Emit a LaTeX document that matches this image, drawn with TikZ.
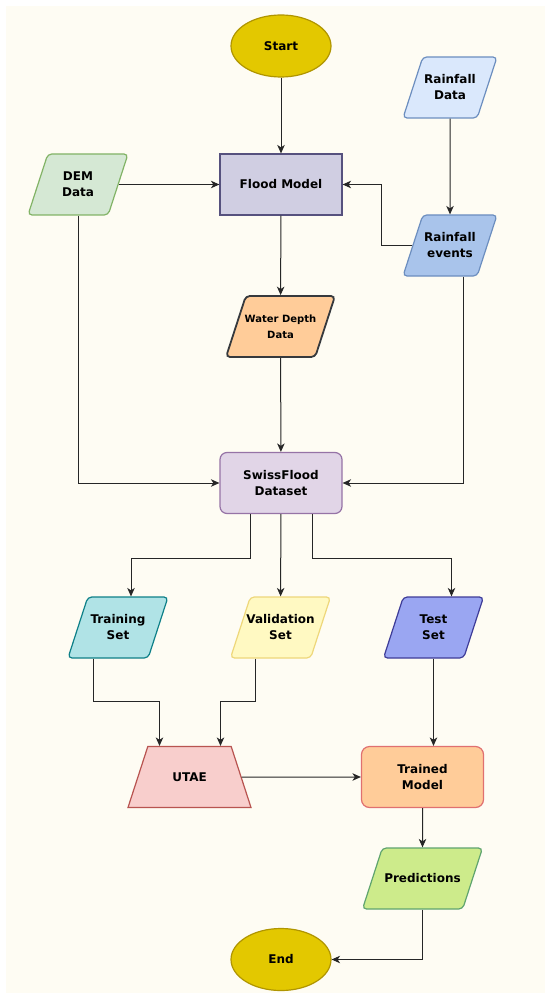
\documentclass[tikz,border=0pt]{standalone}
\usepackage{fontspec}
\setmainfont{DejaVu Sans}
\usetikzlibrary{shapes.geometric,arrows.meta}

\definecolor{cream}{HTML}{FEFCF3}
\definecolor{goldfill}{HTML}{E3C800}
\definecolor{golddraw}{HTML}{B09500}
\definecolor{floodfill}{HTML}{D0CEE2}
\definecolor{flooddraw}{HTML}{56517E}
\definecolor{demfill}{HTML}{D5E8D4}
\definecolor{demdraw}{HTML}{82B366}
\definecolor{rainfill}{HTML}{DAE8FC}
\definecolor{raindraw}{HTML}{6C8EBF}
\definecolor{eventfill}{HTML}{A9C4EB}
\definecolor{depthfill}{HTML}{FFCC99}
\definecolor{depthdraw}{HTML}{36393D}
\definecolor{swissfill}{HTML}{E1D5E7}
\definecolor{swissdraw}{HTML}{9673A6}
\definecolor{trainfill}{HTML}{B0E3E6}
\definecolor{traindraw}{HTML}{0E8088}
\definecolor{validfill}{HTML}{FFF9C2}
\definecolor{validdraw}{HTML}{EED77A}
\definecolor{testfill}{HTML}{9AA6F2}
\definecolor{testdraw}{HTML}{3E3C98}
\definecolor{utaefill}{HTML}{F8CECC}
\definecolor{utaedraw}{HTML}{B85450}
\definecolor{modeldraw}{HTML}{E07070}
\definecolor{predfill}{HTML}{CDEB8B}
\definecolor{preddraw}{HTML}{5FA46E}

\tikzset{
  box/.style={draw, line width=1.2pt, align=center, inner sep=1pt,
    font=\fontsize{12}{16}\selectfont\bfseries},
  % fixed text box so the trapezium keeps its angles at 61pt high
  twoline/.style={text height=25.15pt, text depth=0.35pt, inner ysep=17.75pt},
  oneline/.style={text height=17.15pt, text depth=8.35pt, inner ysep=17.75pt},
  io/.style={box, twoline, trapezium, trapezium left angle=72, trapezium right angle=108,
    trapezium stretches body=true, rounded corners=4pt},
  term/.style={box, ellipse, minimum width=100pt, minimum height=62pt,
    fill=goldfill, draw=golddraw},
  arr/.style={-{Stealth[length=8.5pt,width=7.5pt,inset=2.5pt]}, line width=1pt, black!85}
}

\begin{document}
\begin{tikzpicture}[x=1pt,y=-1pt]
\fill[white] (0,0) rectangle (550,1000);
\fill[cream] (6,6) rectangle (545,993);

% nodes
\node[term] (start) at (281,46) {Start};
\node[box, fill=floodfill, draw=flooddraw, minimum width=122pt, minimum height=61pt] (flood) at (281,184.5) {Flood Model};
\node[io, fill=demfill, draw=demdraw, minimum width=100pt] (dem) at (78,184.5) {DEM\\Data};
\node[io, fill=rainfill, draw=raindraw, minimum width=94pt] (rain) at (450,87.5) {Rainfall\\Data};
\node[io, fill=eventfill, draw=raindraw, minimum width=94pt] (events) at (450,245.5) {Rainfall\\events};
\node[io, fill=depthfill, draw=depthdraw, line width=1.8pt, minimum width=109pt, inner xsep=-2pt,
  font=\fontsize{10}{16}\selectfont\bfseries] (depth) at (280.5,326.5) {Water Depth\\Data};
\node[box, rounded corners=7pt, fill=swissfill, draw=swissdraw, minimum width=122pt, minimum height=61pt] (swiss) at (281,483) {SwissFlood\\Dataset};
\node[io, fill=trainfill, draw=traindraw, minimum width=100pt] (train) at (118,627.5) {Training\\Set};
\node[io, fill=validfill, draw=validdraw, minimum width=100pt, inner xsep=-8pt] (valid) at (280.5,627.5) {Validation\\Set};
\node[io, fill=testfill, draw=testdraw, minimum width=100pt] (test) at (433.5,627.5) {Test\\Set};
\node[box, oneline, trapezium, trapezium left angle=72, trapezium right angle=72, trapezium stretches body=true,
  fill=utaefill, draw=utaedraw, minimum width=123pt] (utae) at (189.5,777) {UTAE};
\node[box, rounded corners=8pt, fill=depthfill, draw=modeldraw, minimum width=122pt, minimum height=61pt] (trained) at (422.5,777) {Trained\\Model};
\node[io, oneline, fill=predfill, draw=preddraw, minimum width=120pt, inner xsep=-1pt] (pred) at (422.5,878.5) {Predictions};
\node[term] (end) at (281,959.5) {End};

% connectors
\draw[arr] (start) -- (flood);
\draw[arr] (dem.east) -- (dem.east -| flood.west);
\draw[arr] (rain) -- (events);
\draw[arr] (events.west) -- ++(-31,0) |- (flood.east);
\draw[arr] (flood) -- (depth);
\draw[arr] (depth) -- (swiss);
\draw[arr] (dem.south) |- (swiss.west);
\draw[arr] ([xshift=13pt]events.south) |- (swiss.east);
\draw[arr] ([xshift=-31pt]swiss.south) -- ++(0,44) -| ([xshift=13pt]train.north);
\draw[arr] (swiss) -- (valid);
\draw[arr] ([xshift=31pt]swiss.south) -- ++(0,44) -| ([xshift=18pt]test.north);
\draw[arr] ([xshift=-25pt]train.south) -- ++(0,43) -| ([xshift=-30pt]utae.north);
\draw[arr] ([xshift=-25pt]valid.south) -- ++(0,43) -| ([xshift=31pt]utae.north);
\draw[arr] (test.south) -- (test.south |- trained.north);
\draw[arr] (utae.east) -- (trained.west);
\draw[arr] (trained) -- (pred);
\draw[arr] (pred.south) |- (end.east);
\end{tikzpicture}
\end{document}
